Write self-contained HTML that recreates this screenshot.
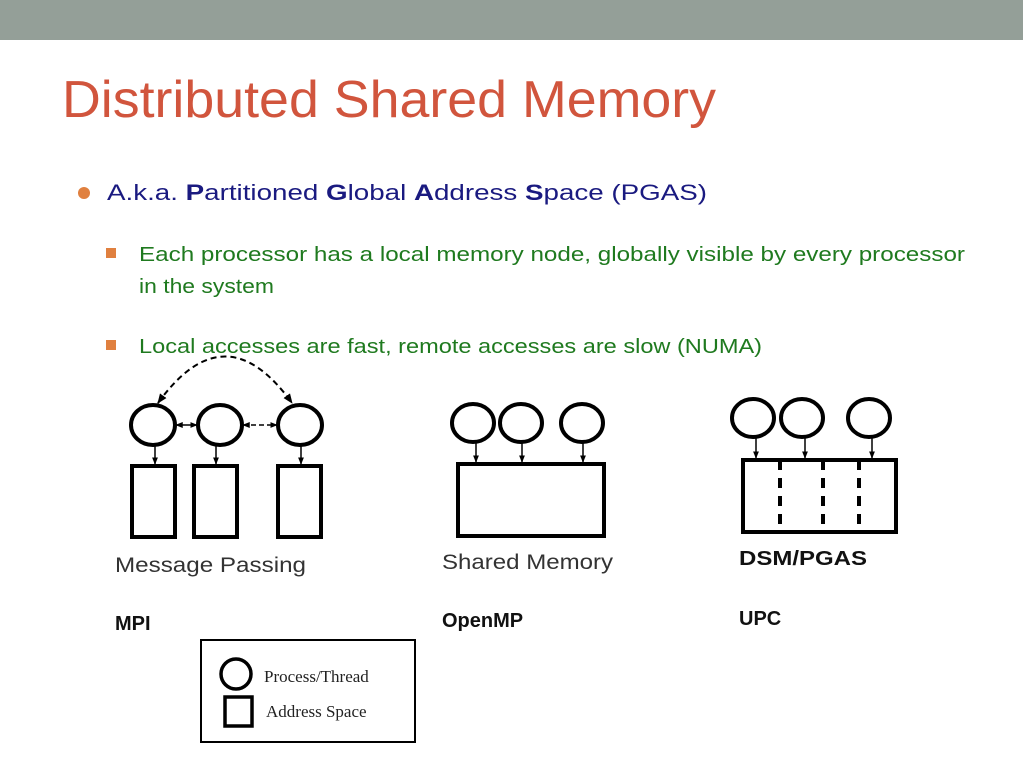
<!DOCTYPE html>
<html><head><meta charset="utf-8"><style>
html,body{margin:0;padding:0;background:#fff;}
svg{display:block;}
</style></head><body>
<svg width="1023" height="767" viewBox="0 0 1023 767" xmlns="http://www.w3.org/2000/svg" font-family="Liberation Sans, sans-serif">
<defs>
<marker id="a" viewBox="0 0 10 10" refX="9" refY="5" markerWidth="5" markerHeight="5" orient="auto-start-reverse"><path d="M0,1 L10,5 L0,9 z" fill="#000"/></marker>
</defs>
<rect x="0" y="0" width="1023" height="40" fill="#949f98"/>
<text x="62" y="117" font-size="52" fill="#d1553d" textLength="654" lengthAdjust="spacingAndGlyphs">Distributed Shared Memory</text>
<circle cx="84" cy="193" r="6" fill="#e0803f"/>
<text x="107" y="200" font-size="22" fill="#1a1a80" textLength="600" lengthAdjust="spacingAndGlyphs">A.k.a. <tspan font-weight="bold">P</tspan>artitioned <tspan font-weight="bold">G</tspan>lobal <tspan font-weight="bold">A</tspan>ddress <tspan font-weight="bold">S</tspan>pace (PGAS)</text>
<rect x="106" y="248" width="10" height="10" fill="#e0803f"/>
<text x="139" y="261" font-size="20" fill="#1f7a1f" textLength="826" lengthAdjust="spacingAndGlyphs">Each processor has a local memory node, globally visible by every processor</text>
<text x="139" y="293" font-size="20" fill="#1f7a1f" textLength="135" lengthAdjust="spacingAndGlyphs">in the system</text>
<rect x="106" y="340" width="10" height="10" fill="#e0803f"/>
<text x="139" y="353" font-size="20" fill="#1f7a1f" textLength="623" lengthAdjust="spacingAndGlyphs">Local accesses are fast, remote accesses are slow (NUMA)</text>

<g stroke="#000" fill="none">
<!-- MPI -->
<path d="M158,403 Q225,310 292,403" stroke-width="2" stroke-dasharray="6,4" marker-start="url(#a)" marker-end="url(#a)"/>
<g stroke-width="4">
<ellipse cx="153" cy="425" rx="22" ry="20"/>
<ellipse cx="220" cy="425" rx="22" ry="20"/>
<ellipse cx="300" cy="425" rx="22" ry="20"/>
<rect x="132" y="466" width="43" height="71"/>
<rect x="194" y="466" width="43" height="71"/>
<rect x="278" y="466" width="43" height="71"/>
</g>
<g stroke-width="1.5">
<line x1="176" y1="425" x2="197" y2="425" marker-start="url(#a)" marker-end="url(#a)"/>
<line x1="243" y1="425" x2="277" y2="425" stroke-dasharray="5,3" marker-start="url(#a)" marker-end="url(#a)"/>
<line x1="155" y1="446" x2="155" y2="464" marker-end="url(#a)"/>
<line x1="216" y1="446" x2="216" y2="464" marker-end="url(#a)"/>
<line x1="301" y1="446" x2="301" y2="464" marker-end="url(#a)"/>
</g>
<!-- Shared -->
<g stroke-width="4">
<ellipse cx="473" cy="423" rx="21" ry="19"/>
<ellipse cx="521" cy="423" rx="21" ry="19"/>
<ellipse cx="582" cy="423" rx="21" ry="19"/>
<rect x="458" y="464" width="146" height="72"/>
</g>
<g stroke-width="1.5">
<line x1="476" y1="443" x2="476" y2="462" marker-end="url(#a)"/>
<line x1="522" y1="443" x2="522" y2="462" marker-end="url(#a)"/>
<line x1="583" y1="443" x2="583" y2="462" marker-end="url(#a)"/>
</g>
<!-- DSM -->
<g stroke-width="4">
<ellipse cx="753" cy="418" rx="21" ry="19"/>
<ellipse cx="802" cy="418" rx="21" ry="19"/>
<ellipse cx="869" cy="418" rx="21" ry="19"/>
<rect x="743" y="460" width="153" height="72"/>
<line x1="780" y1="460" x2="780" y2="532" stroke-dasharray="10,8"/>
<line x1="823" y1="460" x2="823" y2="532" stroke-dasharray="10,8"/>
<line x1="859" y1="460" x2="859" y2="532" stroke-dasharray="10,8"/>
</g>
<g stroke-width="1.5">
<line x1="756" y1="438" x2="756" y2="458" marker-end="url(#a)"/>
<line x1="805" y1="438" x2="805" y2="458" marker-end="url(#a)"/>
<line x1="872" y1="438" x2="872" y2="458" marker-end="url(#a)"/>
</g>
<!-- legend -->
<rect x="201" y="640" width="214" height="102" stroke-width="2"/>
<ellipse cx="236" cy="674" rx="15" ry="15" stroke-width="3.5"/>
<rect x="225" y="697" width="27" height="29" stroke-width="3.5"/>
</g>
<g font-size="21" fill="#333">
<text x="115" y="572" textLength="191" lengthAdjust="spacingAndGlyphs">Message Passing</text>
<text x="442" y="569" textLength="171" lengthAdjust="spacingAndGlyphs">Shared Memory</text>
</g>
<g font-size="20" font-weight="bold" fill="#111">
<text x="739" y="565" textLength="128" lengthAdjust="spacingAndGlyphs">DSM/PGAS</text>
<text x="115" y="630">MPI</text>
<text x="442" y="627">OpenMP</text>
<text x="739" y="625">UPC</text>
</g>
<g font-family="Liberation Serif, serif" font-size="17" fill="#222">
<text x="264" y="682">Process/Thread</text>
<text x="266" y="717">Address Space</text>
</g>
</svg>
</body></html>
